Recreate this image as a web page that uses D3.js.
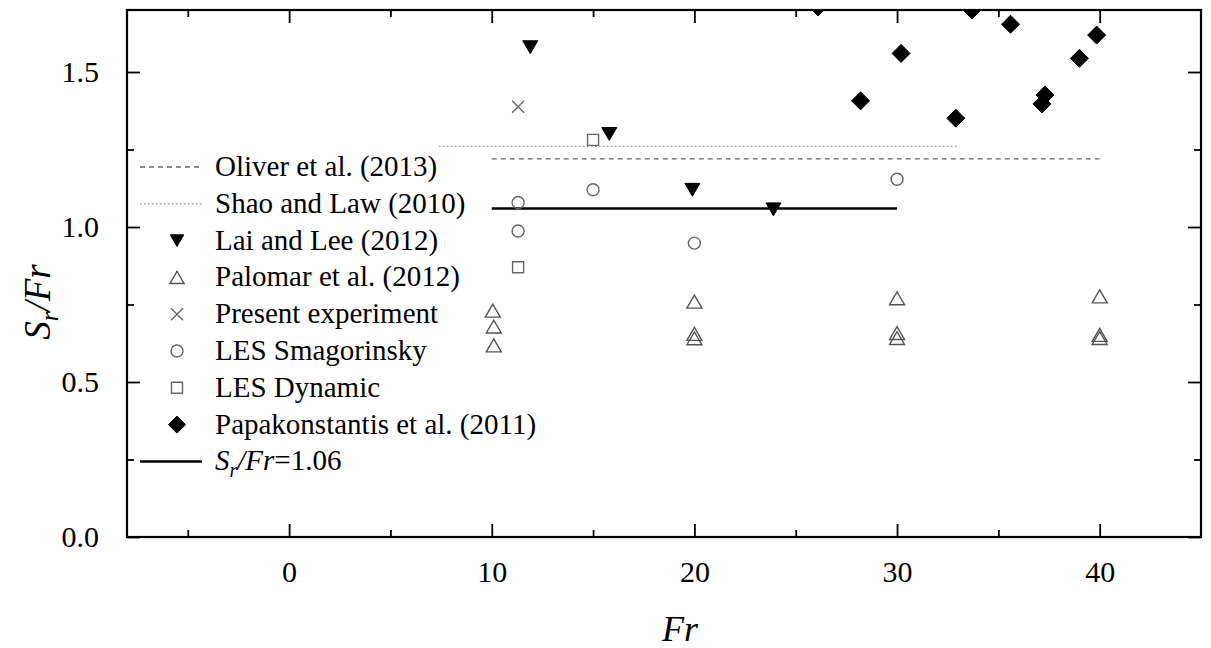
<!DOCTYPE html>
<html>
<head>
<meta charset="utf-8">
<script src="https://cdn.jsdelivr.net/npm/d3@7"></script>
<style>
  html, body { margin: 0; padding: 0; background: #fff; }
  svg { display: block; }
  svg text { font-family: "Liberation Serif", "Times New Roman", serif; }
</style>
</head>
<body>
<svg id="chart" width="1211" height="648"></svg>
<script>
// Reference lines: Fr range and S_r/Fr level
const oliverFr = [10, 40];
const oliverValue = 1.22;
const shaoFr = [7.4, 33];
const shaoValue = 1.26;
const fitFr = [10, 30];
const fitValue = 1.06;

// Lai and Lee (2012)
const laiFr = [11.9, 15.8, 19.9, 23.9];
const laiVal = [1.58, 1.30, 1.12, 1.057];

// Palomar et al. (2012)
const palomarFr = [10.05, 10.1, 10.1, 20, 20, 20, 30, 30, 30, 40, 40, 40];
const palomarVal = [0.73, 0.679, 0.618, 0.759, 0.655, 0.641, 0.77, 0.658, 0.642, 0.776, 0.652, 0.642];

// Present experiment
const presentFr = [11.3];
const presentVal = [1.388];

// LES Smagorinsky
const smagFr = [11.3, 11.3, 15, 20, 30];
const smagVal = [1.079, 0.987, 1.12, 0.948, 1.154];

// LES Dynamic
const dynFr = [11.3, 15];
const dynVal = [0.87, 1.281];

// Papakonstantis et al. (2011)
const papaFr = [26.1, 28.2, 30.2, 32.9, 33.7, 35.6, 37.15, 37.3, 39.0, 39.85];
const papaVal = [1.71, 1.407, 1.56, 1.351, 1.70, 1.654, 1.397, 1.426, 1.544, 1.619];

// Axis ticks
const xMajor = [0, 10, 20, 30, 40];
const xMinor = [-5, 5, 15, 25, 35];
const yMajor = [0, 0.5, 1.0, 1.5];
const yMinor = [0.25, 0.75, 1.25];

const svg = d3.select("#chart");
const L = 127, R = 1201, T = 10, B = 537;

const x = d3.scaleLinear().domain([-8, 45]).range([L, R]);
const y = d3.scaleLinear().domain([0, 1.7]).range([B, T]);

svg.append("defs").append("clipPath").attr("id", "plotClip")
  .append("rect").attr("x", L).attr("y", T).attr("width", R - L).attr("height", B - T);

const plot = svg.append("g").attr("clip-path", "url(#plotClip)");

// marker shapes, centred on their bounding box
const shapes = {
  triDown: (s) => `M${-s/2},${-s*0.43}L${s/2},${-s*0.43}L0,${s*0.43}Z`,
  triUp: (s) => `M${-s/2},${s*0.43}L${s/2},${s*0.43}L0,${-s*0.43}Z`,
  diamond: (s) => `M0,${-s/2}L${s/2},0L0,${s/2}L${-s/2},0Z`,
  square: (s) => `M${-s/2},${-s/2}H${s/2}V${s/2}H${-s/2}Z`,
  cross: (s) => `M${-s/2},${-s/2}L${s/2},${s/2}M${-s/2},${s/2}L${s/2},${-s/2}`
};

const styles = {
  lai: { shape: "triDown", size: 15, fill: "#000", stroke: "#000", sw: 1 },
  palomar: { shape: "triUp", size: 15, fill: "none", stroke: "#555", sw: 1.4 },
  present: { shape: "cross", size: 12, fill: "none", stroke: "#666", sw: 1.4 },
  smag: { shape: "circle", size: 12, fill: "none", stroke: "#666", sw: 1.4 },
  dyn: { shape: "square", size: 11, fill: "none", stroke: "#666", sw: 1.4 },
  papa: { shape: "diamond", size: 18, fill: "#000", stroke: "#000", sw: 1 }
};

function drawMarker(g, cx, cy, st) {
  if (st.shape === "circle") {
    g.append("circle").attr("cx", cx).attr("cy", cy).attr("r", st.size / 2)
      .attr("fill", st.fill).attr("stroke", st.stroke).attr("stroke-width", st.sw);
  } else {
    g.append("path").attr("d", shapes[st.shape](st.size))
      .attr("transform", `translate(${cx},${cy})`)
      .attr("fill", st.fill).attr("stroke", st.stroke).attr("stroke-width", st.sw);
  }
}

function drawSeries(frs, vals, st) {
  frs.forEach((f, i) => drawMarker(plot, x(f), y(vals[i]), st));
}

// horizontal reference lines
const lineStyles = {
  oliver: { stroke: "#666", sw: 1.3, dash: "5,4" },
  shao: { stroke: "#999", sw: 1.3, dash: "1.5,2.5" },
  fit: { stroke: "#000", sw: 2.5, dash: null }
};
function hLine(frs, v, ls) {
  plot.append("line")
    .attr("x1", x(frs[0])).attr("x2", x(frs[1]))
    .attr("y1", y(v)).attr("y2", y(v))
    .attr("stroke", ls.stroke).attr("stroke-width", ls.sw)
    .attr("stroke-dasharray", ls.dash);
}
hLine(shaoFr, shaoValue, lineStyles.shao);
hLine(oliverFr, oliverValue, lineStyles.oliver);
hLine(fitFr, fitValue, lineStyles.fit);

drawSeries(palomarFr, palomarVal, styles.palomar);
drawSeries(smagFr, smagVal, styles.smag);
drawSeries(dynFr, dynVal, styles.dyn);
drawSeries(presentFr, presentVal, styles.present);
drawSeries(laiFr, laiVal, styles.lai);
drawSeries(papaFr, papaVal, styles.papa);

// axes with inward ticks on all four sides
function styleAxis(g) {
  g.select(".domain").remove();
  g.selectAll(".tick line").attr("stroke", "#000").attr("stroke-width", 1.8);
  g.selectAll(".tick text").attr("font-family", null)
    .attr("font-size", 30).attr("fill", "#000");
}
svg.append("g").attr("transform", `translate(0,${B})`)
  .call(d3.axisBottom(x).tickValues(xMajor).tickSize(-13).tickPadding(24).tickFormat(d3.format("d")))
  .call(styleAxis);
svg.append("g").attr("transform", `translate(0,${B})`)
  .call(d3.axisBottom(x).tickValues(xMinor).tickSize(-7).tickFormat(""))
  .call(styleAxis);
svg.append("g").attr("transform", `translate(0,${T})`)
  .call(d3.axisTop(x).tickValues(xMajor).tickSize(-13).tickFormat(""))
  .call(styleAxis);
svg.append("g").attr("transform", `translate(0,${T})`)
  .call(d3.axisTop(x).tickValues(xMinor).tickSize(-7).tickFormat(""))
  .call(styleAxis);
svg.append("g").attr("transform", `translate(${L},0)`)
  .call(d3.axisLeft(y).tickValues(yMajor).tickSize(-13).tickPadding(28).tickFormat(d3.format(".1f")))
  .call(styleAxis);
svg.append("g").attr("transform", `translate(${L},0)`)
  .call(d3.axisLeft(y).tickValues(yMinor).tickSize(-7).tickFormat(""))
  .call(styleAxis);
svg.append("g").attr("transform", `translate(${R},0)`)
  .call(d3.axisRight(y).tickValues(yMajor).tickSize(-13).tickFormat(""))
  .call(styleAxis);
svg.append("g").attr("transform", `translate(${R},0)`)
  .call(d3.axisRight(y).tickValues(yMinor).tickSize(-7).tickFormat(""))
  .call(styleAxis);

// frame
svg.append("rect").attr("x", L).attr("y", T).attr("width", R - L).attr("height", B - T)
  .attr("fill", "none").attr("stroke", "#000").attr("stroke-width", 2.2);

// axis titles
svg.append("text").attr("x", 680).attr("y", 641)
  .attr("text-anchor", "middle").attr("font-size", 36).attr("font-style", "italic").text("Fr");

const yt = svg.append("text").attr("transform", "translate(50,302) rotate(-90)")
  .attr("text-anchor", "middle").attr("font-size", 37);
yt.append("tspan").attr("font-style", "italic").text("S");
yt.append("tspan").attr("font-style", "italic").attr("font-size", 25).attr("dy", 8).text("r");
yt.append("tspan").attr("font-style", "italic").attr("dy", -8).text("/Fr");

// legend
const legendItems = [
  { label: "Oliver et al. (2013)", line: "oliver" },
  { label: "Shao and Law (2010)", line: "shao" },
  { label: "Lai and Lee (2012)", marker: "lai" },
  { label: "Palomar et al. (2012)", marker: "palomar" },
  { label: "Present experiment", marker: "present" },
  { label: "LES Smagorinsky", marker: "smag" },
  { label: "LES Dynamic", marker: "dyn" },
  { label: "Papakonstantis et al. (2011)", marker: "papa" },
  { label: null, line: "fit" }
];
const legend = svg.append("g");
const legTop = 167, legStep = 36.8, symX = 177, textX = 215;
const legendMarkerScale = { lai: 0.9, palomar: 0.95, present: 1, smag: 1, dyn: 1, papa: 0.95 };
legendItems.forEach((d, i) => {
  const cy = legTop + i * legStep;
  if (d.line) {
    const ls = lineStyles[d.line];
    legend.append("line").attr("x1", 140).attr("x2", 202).attr("y1", cy).attr("y2", cy)
      .attr("stroke", ls.stroke).attr("stroke-width", ls.sw).attr("stroke-dasharray", ls.dash);
  } else {
    const st = Object.assign({}, styles[d.marker]);
    st.size = st.size * legendMarkerScale[d.marker];
    drawMarker(legend, symX, cy, st);
  }
  const t = legend.append("text").attr("x", textX).attr("y", cy + 9).attr("font-size", 29).attr("fill", "#000");
  if (d.label) {
    t.text(d.label);
  } else {
    t.append("tspan").attr("font-style", "italic").text("S");
    t.append("tspan").attr("font-style", "italic").attr("font-size", 20).attr("dy", 7).text("r");
    t.append("tspan").attr("font-style", "italic").attr("dy", -7).text("/Fr");
    t.append("tspan").text("=" + fitValue.toFixed(2));
  }
});
</script>
</body>
</html>
